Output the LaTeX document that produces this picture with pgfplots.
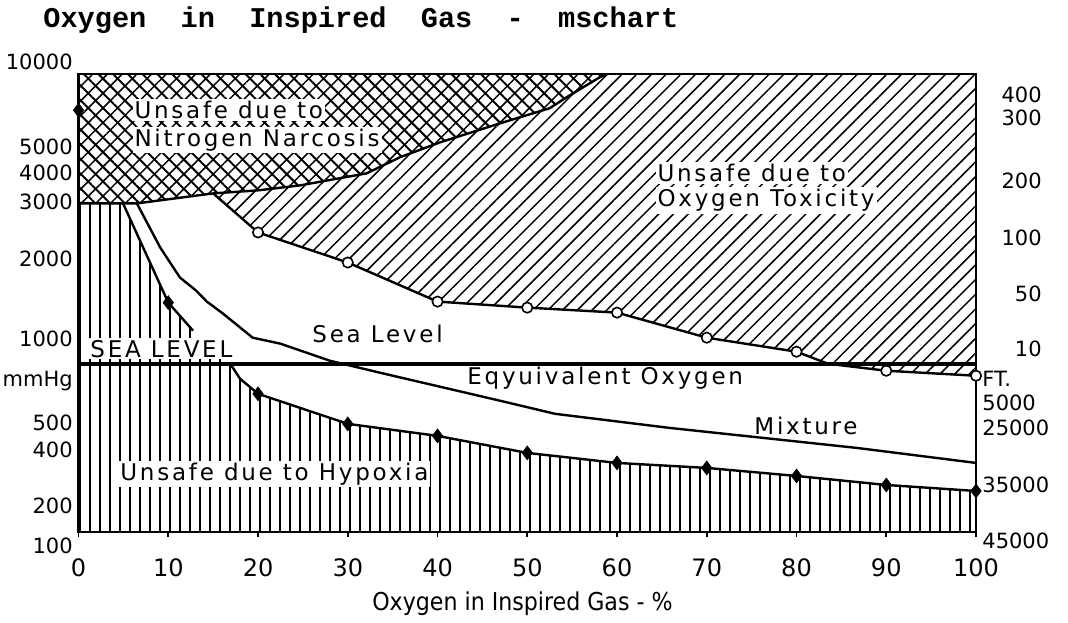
\documentclass[border=0pt]{standalone}
\usepackage{fontspec}
\setmainfont{DejaVu Sans}
\newfontfamily\titlefont{Liberation Mono}
\newfontfamily\plotfont[LetterSpace=12]{DejaVu Sans}
\newfontfamily\condfont{DejaVu Sans Condensed}
\usepackage{pgfplots}
\pgfplotsset{compat=1.18}
\usetikzlibrary{patterns.meta}

\tikzset{
  tl/.style={font=\fontsize{10.5}{12}\selectfont, inner sep=0pt},
  inlab/.style={font=\plotfont\fontsize{11.5}{13}\selectfont, anchor=west, inner sep=1pt},
}

\begin{document}
\begin{tikzpicture}
\begin{axis}[
    scale only axis,
    width=448.75pt, height=228.5pt,
    xmin=0, xmax=100, ymin=0, ymax=457,
    axis line style={line width=1.1pt},
    xtick={0,10,...,100},
    xtick pos=bottom,
    tick align=outside,
    major tick length=2.5pt,
    tick style={line width=0.8pt, black},
    ytick=\empty,
    /pgf/number format/assume math mode=true,
    xticklabel style={font=\fontsize{12}{13}\selectfont, anchor=center, yshift=-15.5pt},
    xlabel={Oxygen in Inspired Gas - \%},
    xlabel style={font=\condfont\fontsize{12.3}{14}\selectfont,
                  at={(axis description cs:0.4947,-0.1575)}, anchor=center},
    clip=false,
]
% oxygen toxicity region
\addplot[draw=none, pattern={Lines[angle=45, distance=5.2pt, line width=0.75pt]}] coordinates {
(0,457) (0,328) (6.5,328) (15,338) (20,299) (30,269) (40,230) (50,224) (60,219)
(70,194) (80,180) (83.5,168) (90,161) (100,156) (100,457)} -- cycle;
% nitrogen narcosis region
\addplot[draw=none, pattern={Lines[angle=-45, distance=5.2pt, line width=1pt]}] coordinates {
(0,457) (0,328) (6.5,328) (15,338) (20,341) (24.7,346) (32.1,358) (35.8,374) (40.3,389)
(47,408) (52.5,423) (54.4,434) (58.1,454) (58.9,457)} -- cycle;
% hypoxia region
\addplot[draw=none, pattern={Lines[angle=90, distance=5pt, line width=0.75pt]}] coordinates {
(0,0) (0,328) (4.96,328) (10,229) (12.76,201) (13.5,191) (16.9,168) (18,153) (20,138)
(30,108) (40,96) (50,79) (60,69) (70,64) (80,56) (90,47) (100,41) (100,0)} -- cycle;

% labels with white backing
\node[inlab, fill=white] at (axis cs:5.97,421) {Unsafe due to};
\node[inlab, fill=white] at (axis cs:5.97,391) {Nitrogen Narcosis};
\node[inlab, fill=white] at (axis cs:64.25,358) {Unsafe due to};
\node[inlab, fill=white] at (axis cs:64.25,331) {Oxygen Toxicity};
\node[inlab, fill=white] at (axis cs:1.06,183) {SEA LEVEL};
\node[inlab, fill=white] at (axis cs:4.4,58) {Unsafe due to Hypoxia};
\node[inlab] at (axis cs:25.8,198) {Sea Level};
\node[inlab] at (axis cs:43.06,154) {Eqyuivalent Oxygen};
\node[inlab] at (axis cs:75.05,106) {Mixture};

% boundaries
\addplot[black, line width=1.2pt] coordinates {
(0,328) (6.5,328) (15,338) (20,341) (24.7,346) (32.1,358) (35.8,374) (40.3,389)
(47,408) (52.5,423) (54.4,434) (58.1,454) (58.9,457)};
\addplot[black, line width=1.2pt] coordinates {
(15,338) (20,299) (30,269) (40,230) (50,224) (60,219) (70,194) (80,180) (83.5,168)
(90,161) (100,156)};
\addplot[black, line width=1.2pt] coordinates {(4.96,328) (10,229) (12.76,201)};
\addplot[black, line width=1.2pt] coordinates {
(16.9,168) (18,153) (20,138) (30,108) (40,96) (50,79) (60,69) (70,64) (80,56) (90,47) (100,41)};
% sea level equivalent oxygen mixture
\addplot[black, line width=1.2pt] coordinates {
(6.5,328) (9.1,284) (11.3,254) (13.1,241) (14.3,230) (16.1,218) (19.4,194) (22.5,188) (28,171)
(33.6,159) (47,131) (53.1,118) (65.8,104) (86.7,84) (100,69)};
% sea level line
\addplot[black, line width=2.2pt] coordinates {(0,168) (100,168)};

% markers
\addplot[only marks, mark=diamond*, mark size=3.4pt, black] coordinates {
(0,421) (10,229) (20,138) (30,108) (40,96) (50,79) (60,69) (70,64) (80,56) (90,47) (100,41)};
\addplot[only marks, mark=*, mark size=2.6pt, draw=black, fill=white, line width=0.8pt] coordinates {
(20,299) (30,269) (40,230) (50,224) (60,219) (70,194) (80,180) (90,161) (100,156)};

% title
\node[anchor=west, font=\titlefont\bfseries\fontsize{14.3}{16}\selectfont, inner sep=0pt]
  at (axis cs:-3.96,511) {Oxygen~~in~~Inspired~~Gas~~-~~mschart};

% left scale (mmHg)
\node[tl, anchor=east] at (axis cs:-0.61,469) {10000};
\node[tl, anchor=east] at (axis cs:-0.61,384) {5000};
\node[tl, anchor=east] at (axis cs:-0.61,358) {4000};
\node[tl, anchor=east] at (axis cs:-0.61,330) {3000};
\node[tl, anchor=east] at (axis cs:-0.61,273) {2000};
\node[tl, anchor=east] at (axis cs:-0.61,193) {1000};
\node[tl, anchor=east] at (axis cs:-0.61,151) {mmHg};
\node[tl, anchor=east] at (axis cs:-0.61,109) {500};
\node[tl, anchor=east] at (axis cs:-0.61,82) {400};
\node[tl, anchor=east] at (axis cs:-0.61,26) {200};
\node[tl, anchor=east] at (axis cs:-0.61,-14) {100};

% right scale (feet)
\node[tl, anchor=east] at (axis cs:107.36,436) {400};
\node[tl, anchor=east] at (axis cs:107.36,413) {300};
\node[tl, anchor=east] at (axis cs:107.36,351) {200};
\node[tl, anchor=east] at (axis cs:107.36,294) {100};
\node[tl, anchor=east] at (axis cs:107.36,238) {50};
\node[tl, anchor=east] at (axis cs:107.36,183) {10};
\node[tl, anchor=west] at (axis cs:100.67,153) {FT.};
\node[tl, anchor=west] at (axis cs:100.67,129) {5000};
\node[tl, anchor=west] at (axis cs:100.67,104) {25000};
\node[tl, anchor=west] at (axis cs:100.67,47) {35000};
\node[tl, anchor=west] at (axis cs:100.67,-9) {45000};

\path (axis cs:-8.75,-86) rectangle (axis cs:110.25,531);
\end{axis}
\end{tikzpicture}
\end{document}
